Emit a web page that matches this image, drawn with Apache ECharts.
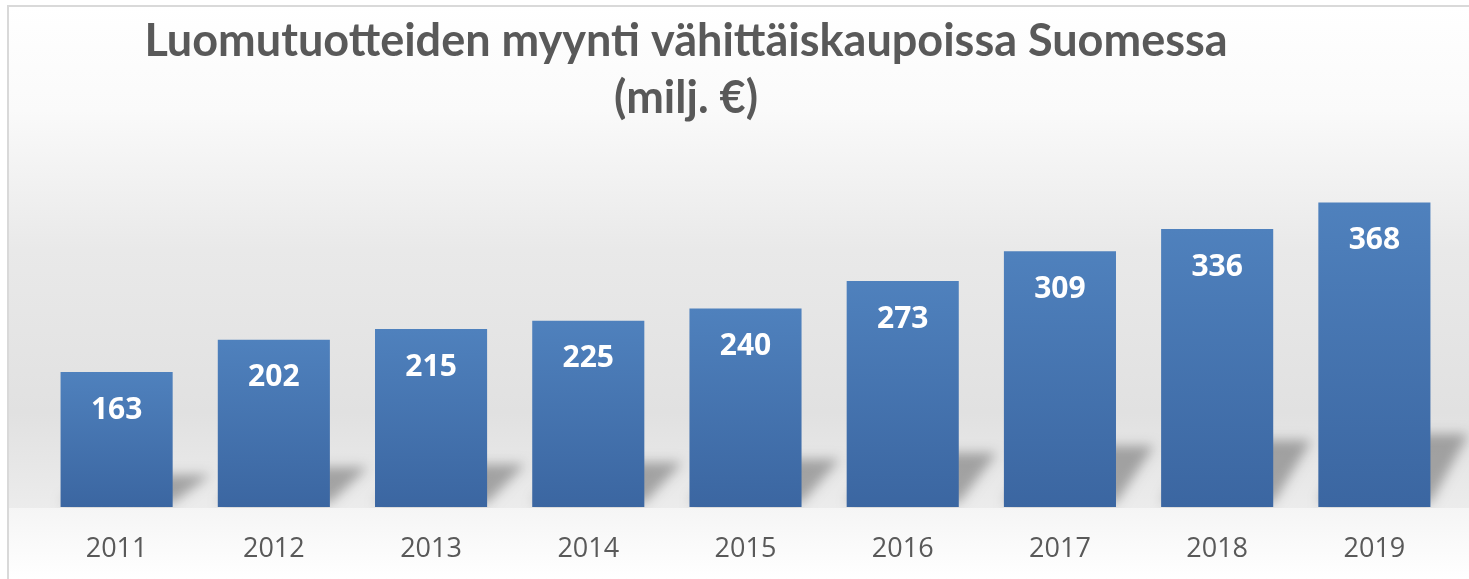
<!DOCTYPE html>
<html>
<head>
<meta charset="utf-8">
<script src="https://cdn.jsdelivr.net/npm/echarts@6/dist/echarts.min.js"></script>
<style>
  html, body { margin: 0; padding: 0; background: #fff; }
  #sales-chart { width: 1469px; height: 579px; }
</style>
</head>
<body>
<div id="sales-chart"></div>
<script>
// Luomutuotteiden myynti, milj. €
var years = ['2011', '2012', '2013', '2014', '2015', '2016', '2017', '2018', '2019'];
var sales = [163, 202, 215, 225, 240, 273, 309, 336, 368];
var titleLines = ['Luomutuotteiden myynti vähittäiskaupoissa Suomessa', '(milj. €)'];

function drawSalesChart() {
    var chart = echarts.init(document.getElementById('sales-chart'));

    var barGradient = new echarts.graphic.LinearGradient(0, 0, 0, 1, [
        { offset: 0, color: '#4f81bd' },
        { offset: 1, color: '#3b66a1' }
    ]);

    // soft floor shadow behind each bar (shape drawn off screen, only its blur is shifted back)
    var OFF = 3000;
    function shadowItem(params, api) {
        var base = api.coord([api.value(0), 0]);
        var top = api.coord([api.value(0), api.value(1)]);
        var w = api.size([1, 0])[0] * 0.713;
        var x0 = base[0] - w / 2 - OFF, x1 = base[0] + w / 2 - OFF;
        var dy = (base[1] - top[1]) * 0.24;
        var dx = 38;
        return {
            type: 'polygon',
            shape: { points: [[x0, base[1] - 4], [x1, base[1] - 4], [x1 + dx, base[1] - dy], [x0 + dx, base[1] - dy]] },
            style: {
                fill: '#000',
                shadowBlur: 12,
                shadowOffsetX: OFF,
                shadowColor: 'rgba(0,0,0,0.3)'
            }
        };
    }

    var option = {
        animation: false,
        title: {
            text: titleLines.join('\n'),
            left: 681,
            top: 8,
            textAlign: 'center',
            textStyle: {
                fontFamily: 'Lato',
                fontWeight: 'bold',
                fontSize: 45,
                lineHeight: 57,
                color: '#595959'
            }
        },
        graphic: [
            {
                type: 'rect',
                z: -100,
                shape: { x: 8, y: 6, width: 1470, height: 580 },
                style: {
                    stroke: '#d9d9d9',
                    lineWidth: 2,
                    fill: new echarts.graphic.LinearGradient(0, 0, 0, 1, [
                        { offset: 0, color: '#ffffff' },
                        { offset: 0.18, color: '#fafafa' },
                        { offset: 0.42, color: '#e9e9e9' },
                        { offset: 0.7, color: '#e1e1e1' },
                        { offset: 0.87, color: '#ececec' },
                        { offset: 1, color: '#ffffff' }
                    ])
                }
            },
            {
                type: 'rect',
                z: 1.5,
                shape: { x: 9, y: 508, width: 1460, height: 71 },
                style: {
                    fill: new echarts.graphic.LinearGradient(0, 0, 0, 1, [
                        { offset: 0, color: '#f5f5f5' },
                        { offset: 1, color: '#ffffff' }
                    ])
                }
            }
        ],
        grid: {
            left: 38,
            right: 16,
            top: 176,
            bottom: 72
        },
        xAxis: {
            type: 'category',
            data: years,
            z: 5,
            axisLine: { show: false },
            axisTick: { show: false },
            axisLabel: {
                margin: 29,
                fontFamily: 'Open Sans',
                fontSize: 27,
                color: '#595959'
            }
        },
        yAxis: {
            type: 'value',
            min: 0,
            max: 400,
            show: false,
            splitLine: { show: false }
        },
        series: [
            {
                type: 'custom',
                z: 1,
                data: years.map(function (y, i) { return [i, sales[i]]; }),
                renderItem: shadowItem,
                silent: true
            },
            {
                type: 'bar',
                z: 2,
                data: sales,
                barWidth: '71.3%',
                itemStyle: { color: barGradient },
                label: {
                    show: true,
                    position: 'insideTop',
                    distance: 23,
                    fontFamily: 'Open Sans',
                    fontWeight: 'bold',
                    fontSize: 30,
                    color: '#ffffff'
                }
            }
        ]
    };

    option && chart.setOption(option);
}
drawSalesChart();
</script>
</body>
</html>
